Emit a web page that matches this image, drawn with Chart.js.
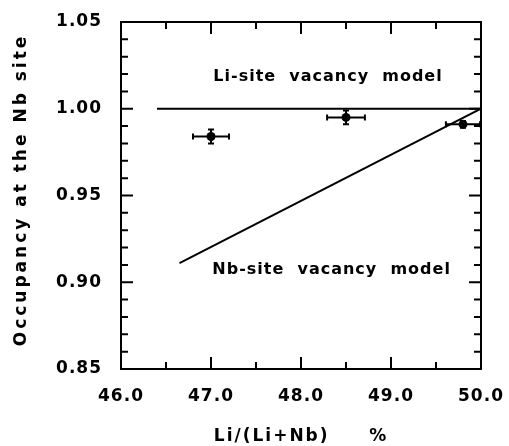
<!DOCTYPE html>
<html>
<head>
<meta charset="utf-8">
<script src="https://cdn.jsdelivr.net/npm/chart.js@4.4.1/dist/chart.umd.min.js"></script>
<style>
html,body{margin:0;padding:0;background:#fff;}
#wrap{width:509px;height:446px;position:relative;}
</style>
</head>
<body>
<div id="wrap"><canvas id="c" width="509" height="446"></canvas></div>
<script>
// ---- data ----
const pointX = [47.0, 48.5, 49.8];
const pointY = [0.984, 0.995, 0.991];
const pointXErr = [0.2, 0.21, 0.19];
const pointYErr = [0.004, 0.004, 0.002];
const liModelX = [46.4, 50.0];
const liModelY = [1.0, 1.0];
const nbModelX = [46.65, 50.0];
const nbModelY = [0.911, 1.0];
const xTicks = [46.0, 47.0, 48.0, 49.0, 50.0];
const yTicks = [0.85, 0.90, 0.95, 1.00, 1.05];
const xMinorStep = 0.5;
const yMinorStep = 0.01;
const labels = [
  {text: 'Li-site  vacancy  model', x: 48.3, y: 1.0185},
  {text: 'Nb-site  vacancy  model', x: 48.34, y: 0.907}
];
const xTitle = 'Li/(Li+Nb)     %';
const yTitle = 'Occupancy at the Nb site';

const FONT = '"DejaVu Sans", "Liberation Sans", Arial, sans-serif';

const spacingPlugin = {
  id: 'spacing',
  beforeDraw(chart) { chart.ctx.letterSpacing = '1px'; }
};

const decoPlugin = {
  id: 'deco',
  afterDatasetsDraw(chart) {
    const ctx = chart.ctx, xs = chart.scales.x, ys = chart.scales.y;
    const a = chart.chartArea;
    ctx.save();
    ctx.strokeStyle = '#000';
    ctx.fillStyle = '#000';
    // error bars
    ctx.lineWidth = 2;
    for (let i = 0; i < pointX.length; i++) {
      const px = xs.getPixelForValue(pointX[i]);
      const py = ys.getPixelForValue(pointY[i]);
      const xl = xs.getPixelForValue(pointX[i] - pointXErr[i]);
      const xr = Math.min(xs.getPixelForValue(pointX[i] + pointXErr[i]), a.right);
      const yt = ys.getPixelForValue(pointY[i] + pointYErr[i]);
      const yb = ys.getPixelForValue(pointY[i] - pointYErr[i]);
      ctx.beginPath();
      ctx.moveTo(xl, py); ctx.lineTo(xr, py);
      ctx.moveTo(xl, py - 3); ctx.lineTo(xl, py + 3);
      if (xr < a.right) { ctx.moveTo(xr, py - 3); ctx.lineTo(xr, py + 3); }
      ctx.moveTo(px, yt); ctx.lineTo(px, yb);
      ctx.moveTo(px - 3, yt); ctx.lineTo(px + 3, yt);
      ctx.moveTo(px - 3, yb); ctx.lineTo(px + 3, yb);
      ctx.stroke();
    }
    // frame
    ctx.lineWidth = 2;
    ctx.strokeRect(a.left, a.top, a.right - a.left, a.bottom - a.top);
    // ticks, inward, on all four sides
    const nX = Math.round((xs.max - xs.min) / xMinorStep);
    ctx.beginPath();
    for (let k = 0; k <= nX; k++) {
      const v = xs.min + k * xMinorStep;
      const major = xTicks.some(t => Math.abs(t - v) < 1e-6);
      const len = major ? 12 : 7;
      const p = xs.getPixelForValue(v);
      ctx.moveTo(p, a.bottom); ctx.lineTo(p, a.bottom - len);
      ctx.moveTo(p, a.top); ctx.lineTo(p, a.top + len);
    }
    const nY = Math.round((ys.max - ys.min) / yMinorStep);
    for (let k = 0; k <= nY; k++) {
      const v = ys.min + k * yMinorStep;
      const major = yTicks.some(t => Math.abs(t - v) < 1e-6);
      const len = major ? 12 : 7;
      const p = ys.getPixelForValue(v);
      ctx.moveTo(a.left, p); ctx.lineTo(a.left + len, p);
      ctx.moveTo(a.right, p); ctx.lineTo(a.right - len, p);
    }
    ctx.stroke();
    // in-plot labels
    ctx.font = 'bold 16px ' + FONT;
    ctx.letterSpacing = '1px';
    ctx.textAlign = 'center';
    ctx.textBaseline = 'middle';
    labels.forEach(l => {
      ctx.fillText(l.text, xs.getPixelForValue(l.x), ys.getPixelForValue(l.y));
    });
    // axis titles
    ctx.font = 'bold 17px ' + FONT;
    ctx.letterSpacing = '2px';
    ctx.fillText(xTitle, (a.left + a.right) / 2, 437);
    ctx.letterSpacing = '3px';
    ctx.translate(22, 190);
    ctx.rotate(-Math.PI / 2);
    ctx.fillText(yTitle, 0, 0);
    ctx.restore();
  }
};

new Chart(document.getElementById('c'), {
  type: 'scatter',
  data: {
    datasets: [
      {
        data: liModelX.map((x, i) => ({x, y: liModelY[i]})),
        showLine: true, borderColor: '#000', borderWidth: 2, pointRadius: 0
      },
      {
        data: nbModelX.map((x, i) => ({x, y: nbModelY[i]})),
        showLine: true, borderColor: '#000', borderWidth: 2, pointRadius: 0
      },
      {
        data: pointX.map((x, i) => ({x, y: pointY[i]})),
        pointRadius: 4.5, backgroundColor: '#000', borderColor: '#000', borderWidth: 0
      }
    ]
  },
  options: {
    responsive: false,
    animation: false,
    devicePixelRatio: 1,
    layout: {padding: {left: 0, right: 28, top: 22, bottom: 0}},
    plugins: {legend: {display: false}, tooltip: {enabled: false}},
    scales: {
      x: {
        type: 'linear', min: 46, max: 50,
        afterBuildTicks(s) { s.ticks = xTicks.map(v => ({value: v})); },
        afterFit(s) { s.height = 77; s.paddingLeft = 0; s.paddingRight = 0; },
        border: {display: false},
        grid: {display: false, drawTicks: false},
        ticks: {
          padding: 17, color: '#000', maxRotation: 0,
          font: {family: FONT, size: 17, weight: 'bold'},
          callback: v => v.toFixed(1)
        },
        title: {display: false, text: xTitle}
      },
      y: {
        type: 'linear', min: 0.85, max: 1.05,
        afterBuildTicks(s) { s.ticks = yTicks.map(v => ({value: v})); },
        afterFit(s) { s.width = 121; s.paddingTop = 0; s.paddingBottom = 0; },
        border: {display: false},
        grid: {display: false, drawTicks: false},
        ticks: {
          padding: 19, color: '#000',
          font: {family: FONT, size: 17, weight: 'bold'},
          callback: v => v.toFixed(2)
        },
        title: {display: false, text: yTitle}
      }
    }
  },
  plugins: [spacingPlugin, decoPlugin]
});
</script>
</body>
</html>
